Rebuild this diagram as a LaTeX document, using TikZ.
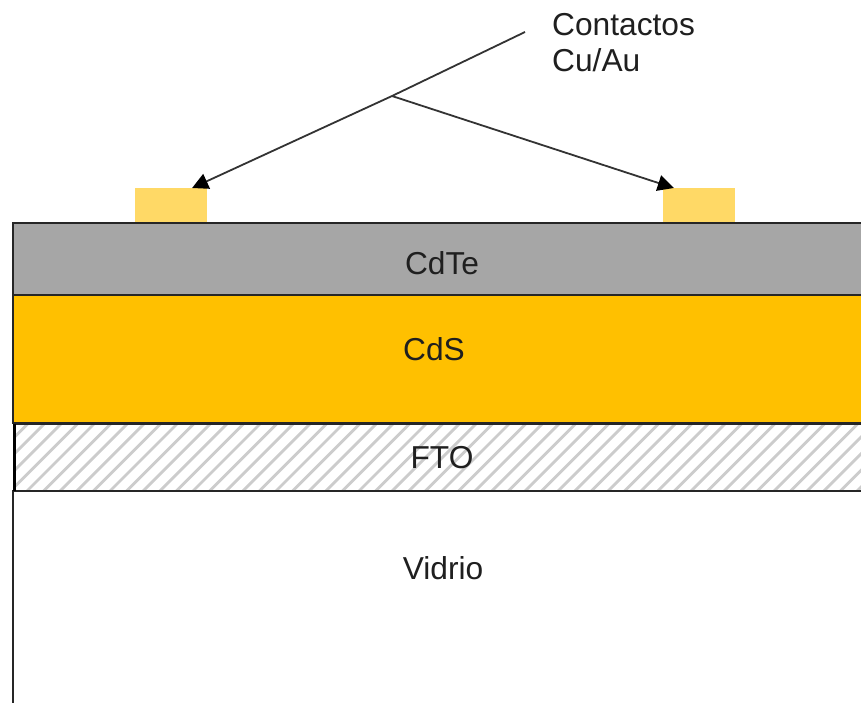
\documentclass[tikz,border=0pt]{standalone}
\usepackage{fontspec}
\setmainfont{Liberation Sans}
\usetikzlibrary{calc,arrows.meta}
\definecolor{contactc}{HTML}{FFD966}
\definecolor{cdtec}{HTML}{A6A6A6}
\definecolor{cdsc}{HTML}{FFC000}
\definecolor{hatchc}{HTML}{CCCCCC}
\tikzset{
  x=1pt,y=-1pt,
  layerbox/.style={draw=black!85,line width=1.8pt,anchor=north west,inner sep=0pt,outer sep=0pt},
  contactbox/.style={fill=contactc,anchor=north west,inner sep=0pt,outer sep=0pt,minimum width=72pt,minimum height=34.5pt},
  lbl/.style={font=\fontsize{31.7}{36}\selectfont,text=black!88,inner sep=0pt},
  lead/.style={draw=black!80,line width=1.8pt},
  leadarrow/.style={lead,-{Triangle[length=16pt,width=16pt,color=black]}}
}
\begin{document}
\begin{tikzpicture}
\path[use as bounding box] (0,0) rectangle (861,702);
\clip (0,0) rectangle (861,702);
\fill[white] (0,0) rectangle (861,702);
% contacts
\node[contactbox] (cl) at (134.5,188) {};
\node[contactbox] (cr) at (663,188) {};
% layers
\node[layerbox,fill=white,minimum width=880pt,minimum height=260pt] (glass) at (13,491) {};
\node[layerbox,fill=cdtec,minimum width=880pt,minimum height=72pt] (cdte) at (13,223) {};
\node[layerbox,fill=cdsc,minimum width=880pt,minimum height=128pt] (cds) at (13,295) {};
\node[layerbox,fill=white,minimum width=880pt,minimum height=67pt] (fto) at (15,424) {};
% hatching
\begin{scope}
\clip (fto.north west) rectangle (fto.south east);
\foreach \i in {0,...,60}{
  \draw[hatchc,line width=2.8pt] ({\i*16.6-60},495) -- ++(75,-75);
}
\end{scope}
\draw[draw=black!85,line width=1.8pt] (fto.south west) rectangle (fto.north east);
\draw[black,line width=3.4pt] ($(fto.south west)+(-0.5,0)$) -- ($(fto.north west)+(-0.5,0)$);
% labels
\node[lbl] (tcdte) at (442,263) {CdTe};
\node[lbl] (tcds) at (434,349) {CdS};
\node[lbl] (tfto) at (442,458) {FTO};
\node[lbl] (tvid) at (443,568) {Vidrio};
\node[lbl,align=left,anchor=west] (tcon) at (552,42.5) {Contactos\\Cu/Au};
% leaders
\coordinate (start) at (525,32);
\coordinate (split) at (392,96);
\draw[lead] (start) -- (split);
\draw[leadarrow] (split) -- ($(cl.north west)!0.8!(cl.north east)$);
\draw[leadarrow] (split) -- ($(cr.north west)!0.15!(cr.north east)$);
\end{tikzpicture}
\end{document}
